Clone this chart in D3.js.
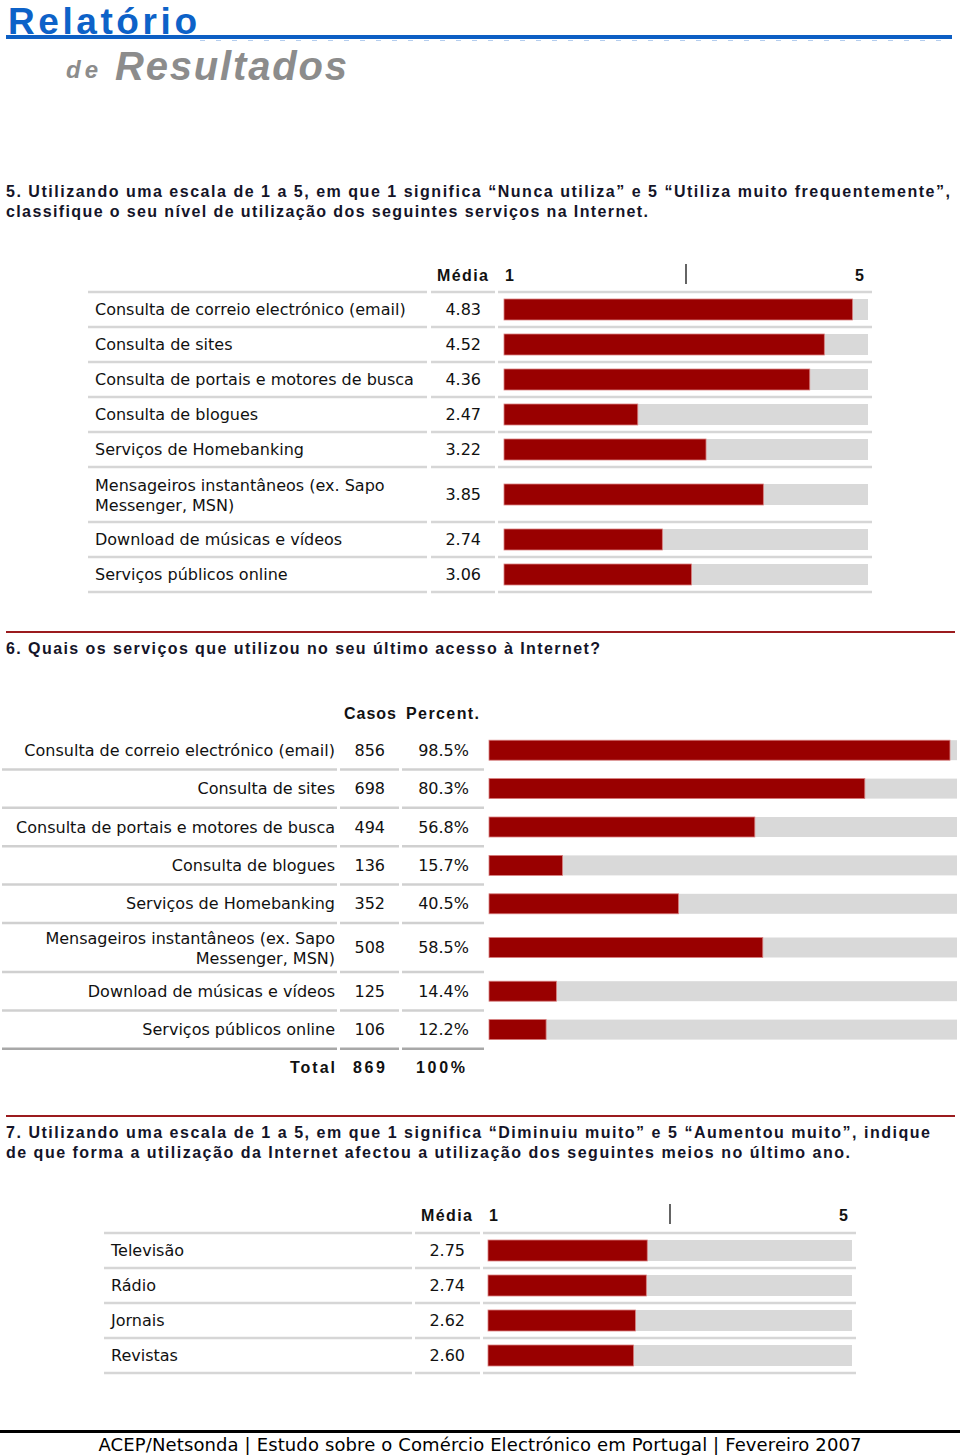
<!DOCTYPE html>
<html><head><meta charset="utf-8">
<script src="https://cdn.jsdelivr.net/npm/d3@7"></script>
<style>
html,body{margin:0;padding:0;background:#fff;}
svg{display:block;}
</style></head>
<body>
<script>
// ---------- DATA ----------
const q5Title = ["5. Utilizando uma escala de 1 a 5, em que 1 significa “Nunca utiliza” e 5 “Utiliza muito frequentemente”,",
                 "classifique o seu nível de utilização dos seguintes serviços na Internet."];
const q5Labels = [["Consulta de correio electrónico (email)"],["Consulta de sites"],["Consulta de portais e motores de busca"],
  ["Consulta de blogues"],["Serviços de Homebanking"],["Mensageiros instantâneos (ex. Sapo","Messenger, MSN)"],
  ["Download de músicas e vídeos"],["Serviços públicos online"]];
const q5Means = [4.83, 4.52, 4.36, 2.47, 3.22, 3.85, 2.74, 3.06];

const q6Title = ["6. Quais os serviços que utilizou no seu último acesso à Internet?"];
const q6Labels = q5Labels;
const q6Cases = [856, 698, 494, 136, 352, 508, 125, 106];
const q6Percent = [98.5, 80.3, 56.8, 15.7, 40.5, 58.5, 14.4, 12.2];
const q6Total = ["Total", "869", "100%"];

const q7Title = ["7. Utilizando uma escala de 1 a 5, em que 1 significa “Diminuiu muito” e 5 “Aumentou muito”, indique",
                 "de que forma a utilização da Internet afectou a utilização dos seguintes meios no último ano."];
const q7Labels = [["Televisão"],["Rádio"],["Jornais"],["Revistas"]];
const q7Means = [2.75, 2.74, 2.62, 2.60];

const scaleTicks = ["1", "5"];
const footerText = "ACEP/Netsonda | Estudo sobre o Comércio Electrónico em Portugal | Fevereiro 2007";

// ---------- DRAW ----------
const W = 960, H = 1455;
const svg = d3.select("body").append("svg").attr("width", W).attr("height", H);
const BODY = "'DejaVu Sans', Verdana, sans-serif";
const HEAD = "'Liberation Sans', Arial, sans-serif";
const RED = "#990000", BG = "#d9d9d9", SEP = "#d6d6d6";

function fitText(g, txt, x, y, len, opts) {
  const t = g.append("text").attr("x", x).attr("y", y).text(txt)
    .attr("font-family", opts.family || HEAD)
    .attr("font-size", opts.size || 16)
    .attr("font-weight", opts.weight || "bold")
    .attr("fill", opts.fill || "#111");
  if (opts.italic) t.attr("font-style", "italic");
  if (opts.anchor) t.attr("text-anchor", opts.anchor);
  if (len) t.attr("textLength", len).attr("lengthAdjust", opts.adjust || "spacing");
  return t;
}

// Header
fitText(svg, "Relatório", 8, 34, 189, {size: 37, fill: "#0d62c8"});
svg.append("rect").attr("x", 6).attr("y", 35).attr("width", 946).attr("height", 4).attr("fill", "#0d5fc4");
svg.append("line").attr("x1", 200).attr("x2", 952).attr("y1", 40.5).attr("y2", 40.5)
  .attr("stroke", "#b4cdee").attr("stroke-width", 1).attr("stroke-dasharray", "5,11");
fitText(svg, "de", 66, 78, 32, {size: 24, fill: "#8c8c8c", italic: true});
fitText(svg, "Resultados", 115, 80, 232, {size: 40, fill: "#8c8c8c", italic: true});

// Question titles
function title(lines, y0, lens) {
  lines.forEach((l, i) => fitText(svg, l, 6, y0 + i * 20, lens[i], {size: 16, fill: "#141428"}));
}
title(q5Title, 197, [944, 642]);
title(q6Title, 654, [594]);
title(q7Title, 1138, [924, 844]);

// section rules
[632, 1116].forEach(y => svg.append("line").attr("x1", 6).attr("x2", 955).attr("y1", y).attr("y2", y)
  .attr("stroke", "#9b1b1e").attr("stroke-width", 2));
svg.append("line").attr("x1", 0).attr("x2", 960).attr("y1", 1431.5).attr("y2", 1431.5)
  .attr("stroke", "#000").attr("stroke-width", 3);
fitText(svg, footerText, 480, 1451, 763, {family: BODY, size: 18, weight: "normal", anchor: "middle", fill: "#000"});

// row layout helper
function layoutRows(labels, top, h1, h2) {
  let y = top;
  return labels.map(l => { const h = l.length > 1 ? h2 : h1; const r = {y0: y, h, c: y + h / 2}; y += h; return r; });
}
function sepLines(g, ys, segs, color) {
  ys.forEach((y, i) => segs.forEach(s => g.append("line").attr("x1", s[0]).attr("x2", s[1])
    .attr("y1", y).attr("y2", y).attr("stroke", typeof color === "function" ? color(i) : color).attr("stroke-width", 2.5)));
}
function labelText(g, lines, x, c, anchor) {
  const offs = lines.length > 1 ? [-9, 11] : [0];
  lines.forEach((l, i) => g.append("text").attr("x", x).attr("y", c + offs[i] + 5.5).text(l)
    .attr("font-family", BODY).attr("font-size", 16).attr("fill", "#111").attr("text-anchor", anchor));
}
function bars(g, rows, values, x, domain0, bh) {
  g.selectAll(null).data(rows).join("rect")
    .attr("x", x(domain0)).attr("y", d => d.c - bh / 2).attr("width", x.range()[1] - x(domain0)).attr("height", bh)
    .attr("fill", BG);
  g.selectAll(null).data(rows).join("rect")
    .attr("x", x(domain0)).attr("y", d => d.c - bh / 2)
    .attr("width", (d, i) => x(values[i]) - x(domain0)).attr("height", bh)
    .attr("fill", RED).attr("stroke", "#d98080").attr("stroke-width", 0.8);
}

// ---------- Q5 / Q7 rating charts ----------
function ratingChart(labels, values, o) {
  const g = svg.append("g");
  const x = d3.scaleLinear().domain([1, 5]).range(o.range);
  const rows = layoutRows(labels, o.top, 35, 55);
  const ys = [o.top].concat(rows.map(r => r.y0 + r.h));
  sepLines(g, ys, o.segs, SEP);
  // header
  fitText(g, "Média", o.mediaX, o.headY, 51, {size: 16});
  fitText(g, scaleTicks[0], x(1) + 1, o.headY, null, {size: 16});
  fitText(g, scaleTicks[1], x(5) - 4, o.headY, null, {size: 16, anchor: "end"});
  g.append("line").attr("x1", x(3)).attr("x2", x(3)).attr("y1", o.headY - 17).attr("y2", o.headY + 3)
    .attr("stroke", "#111").attr("stroke-width", 1.3);
  rows.forEach((r, i) => {
    labelText(g, labels[i], o.labelX, r.c, "start");
    g.append("text").attr("x", o.valX).attr("y", r.c + 5.5).text(d3.format(".2f")(values[i]))
      .attr("font-family", BODY).attr("font-size", 16).attr("fill", "#111").attr("text-anchor", "end");
  });
  bars(g, rows, values, x, 1, 21);
}
ratingChart(q5Labels, q5Means, {range: [504, 868], top: 292, segs: [[88, 427], [431, 495], [498, 872]],
  mediaX: 437, headY: 281, labelX: 95, valX: 481});
ratingChart(q7Labels, q7Means, {range: [488, 852], top: 1233, segs: [[104, 412], [415, 480], [483, 856]],
  mediaX: 421, headY: 1221, labelX: 111, valX: 465});

// ---------- Q6 frequency chart ----------
(function () {
  const g = svg.append("g");
  const x = d3.scaleLinear().domain([0, 100]).range([489, 957]);
  const rows = layoutRows(q6Labels, 731, 38.4, 49);
  const ys = rows.map(r => r.y0 + r.h);
  sepLines(g, ys, [[2, 337], [340, 399], [402, 484]], i => i === ys.length - 1 ? "#a8a8a8" : "#d0d0d0");
  fitText(g, "Casos", 344, 719, 52, {size: 16});
  fitText(g, "Percent.", 406, 719, 73, {size: 16});
  rows.forEach((r, i) => {
    labelText(g, q6Labels[i], 335, r.c, "end");
    g.append("text").attr("x", 385).attr("y", r.c + 5.5).text(q6Cases[i])
      .attr("font-family", BODY).attr("font-size", 16).attr("fill", "#111").attr("text-anchor", "end");
    g.append("text").attr("x", 469).attr("y", r.c + 5.5).text(d3.format(".1f")(q6Percent[i]) + "%")
      .attr("font-family", BODY).attr("font-size", 16).attr("fill", "#111").attr("text-anchor", "end");
  });
  bars(g, rows, q6Percent, x, 0, 20);
  fitText(g, q6Total[0], 290, 1073, 45, {size: 16});
  fitText(g, q6Total[1], 353, 1073, 32, {size: 16});
  fitText(g, q6Total[2], 416, 1073, 49, {size: 16});
})();
</script>
</body></html>
